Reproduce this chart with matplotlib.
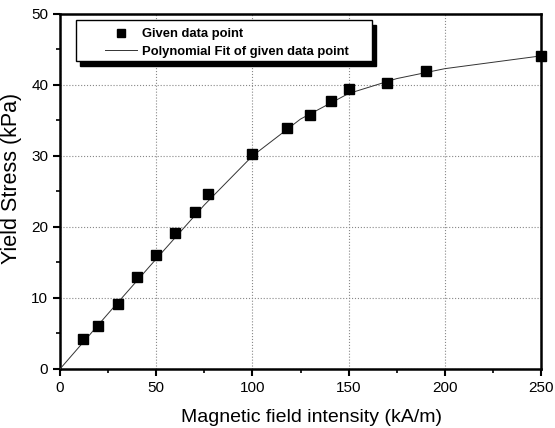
import matplotlib.pyplot as plt
from matplotlib.patches import Rectangle

plt.rcParams['font.family'] = ['Liberation Sans', 'DejaVu Sans']

# measured points
field = [12, 20, 30, 40, 50, 60, 70, 77, 100, 118, 130, 141, 150, 170, 190, 250]
stress = [4.2, 6.1, 9.1, 12.9, 16.1, 19.1, 22.1, 24.6, 30.3, 33.9, 35.8, 37.7, 39.5, 40.3, 42.0, 44.1]

# polynomial fit curve
fit_x = [0, 25, 50, 75, 100, 125, 150, 175, 200, 225, 250]
fit_y = [0, 7.8, 15.5, 23.1, 30.0, 35.2, 38.8, 40.9, 42.3, 43.2, 44.1]

fig = plt.figure(figsize=(5.55, 4.28), dpi=100)
ax = fig.add_axes([0.1081, 0.1379, 0.8667, 0.8294])

ax.plot(fit_x, fit_y, color='#333333', lw=0.7, label='Polynomial Fit of given data point', zorder=3)
ax.plot(field, stress, 's', color='black', ms=6.8, label='Given data point', zorder=4, clip_on=False)

ax.set_xlim(0, 250)
ax.set_ylim(0, 50)
ax.set_xticks([0, 50, 100, 150, 200, 250])
ax.set_xticks([25, 75, 125, 175, 225], minor=True)
ax.set_yticks([0, 10, 20, 30, 40, 50])
ax.set_yticks([5, 15, 25, 35, 45], minor=True)
ax.grid(True, which='major', linestyle=':', color='#888888', lw=0.8)
ax.tick_params(which='major', direction='out', length=5, width=1.5, labelsize=11)
ax.tick_params(which='minor', direction='out', length=3, width=1.2)
for s in ax.spines.values():
    s.set_linewidth(1.8)

ax.set_xlabel('Magnetic field intensity (kA/m)', fontsize=14)
ax.set_ylabel('Yield Stress (kPa)', fontsize=15.5)
ax.xaxis.set_label_coords(0.522, -0.112)
ax.yaxis.set_label_coords(-0.078, 0.537)

# legend box with a solid black drop shadow
x0, y0, w, h = 0.0333, 0.8676, 0.6154, 0.1155
ax.add_patch(Rectangle((x0 + 0.0083, y0 - 0.0141), w, h, transform=ax.transAxes,
                       facecolor='black', edgecolor='black', zorder=5, clip_on=False))
ax.add_patch(Rectangle((x0, y0), w, h, transform=ax.transAxes,
                       facecolor='white', edgecolor='black', lw=1.0, zorder=6, clip_on=False))

handles, labels = ax.get_legend_handles_labels()
leg = ax.legend(handles[::-1], labels[::-1], loc='upper left', bbox_to_anchor=(0.0936, 0.960),
                frameon=False, prop={'weight': 'bold', 'size': 9.4}, borderpad=0,
                borderaxespad=0, handlelength=2.45, handletextpad=0.38,
                labelspacing=0.42, markerscale=0.95)
leg.set_zorder(7)

fig.savefig('out.png', dpi=100)
